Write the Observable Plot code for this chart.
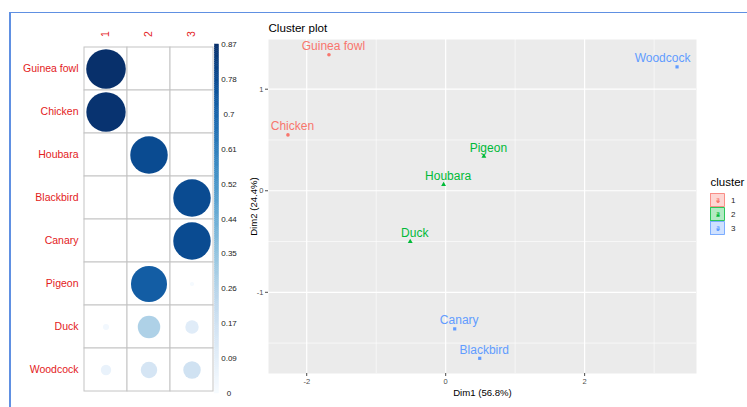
<!DOCTYPE html>
<html>
<head>
<meta charset="utf-8">
<script src="https://cdn.jsdelivr.net/npm/d3@7"></script>
<script src="https://cdn.jsdelivr.net/npm/@observablehq/plot@0.6"></script>
<style>
  html, body { margin: 0; padding: 0; background: #fff; }
  #fig { position: relative; width: 747px; height: 407px; overflow: hidden; background: #fff; }
  #fig > svg { position: absolute; left: 0; top: 0; }
  .rule { position: absolute; background: #6090e2; }
</style>
</head>
<body>
<div id="fig">
  <div class="rule" style="left:9px;top:11.5px;width:738px;height:1.5px"></div>
  <div class="rule" style="left:9px;top:11.5px;width:1.5px;height:396px"></div>
</div>
<script>
// Birds, in the row order of the membership table
const birds = ["Guinea fowl", "Chicken", "Houbara", "Blackbird", "Canary", "Pigeon", "Duck", "Woodcock"];
const clusterIds = ["1", "2", "3"];

// Membership of each bird in clusters 1, 2, 3
const membership1 = [0.87, 0.86, 0.00, 0.00, 0.00, 0.00, 0.02, 0.06];
const membership2 = [0.00, 0.00, 0.78, 0.00, 0.00, 0.72, 0.28, 0.15];
const membership3 = [0.00, 0.00, 0.00, 0.78, 0.78, 0.01, 0.10, 0.17];

// Colour bar labels
const barTickLabels = ["0", "0.09", "0.17", "0.26", "0.35", "0.44", "0.52", "0.61", "0.7", "0.78", "0.87"];

// PCA coordinates and assigned cluster
const dim1 = [-1.68, -2.27, -0.03, 0.49, 0.13, 0.55, -0.51, 3.33];
const dim2 = [1.34, 0.55, 0.06, -1.65, -1.36, 0.34, -0.50, 1.22];
const assigned = ["1", "1", "2", "3", "3", "2", "2", "3"];

const xMajor = [-2, 0, 2], xMinor = [-1, 1, 3];
const yMajor = [-1, 0, 1], yMinor = [-1.5, -0.5, 0.5];

const W = 747, H = 407;
const FONT = "'Liberation Sans', Arial, Helvetica, sans-serif";
const RED = "#e3211c";
const hue = ["#F8766D", "#00BA38", "#619CFF"];
const baseStyle = {background: "transparent", fontFamily: FONT, overflow: "visible"};

const memberships = [membership1, membership2, membership3];
const maxValue = d3.max(memberships.flat());
const cells = [];
birds.forEach((bird, i) => clusterIds.forEach((c, j) => cells.push({bird, cluster: c, value: memberships[j][i]})));

const points = birds.map((name, i) => ({name, dim1: dim1[i], dim2: dim2[i], cluster: assigned[i]}));
const expand = (v) => { const [a, b] = d3.extent(v); const p = (b - a) * 0.05; return [a - p, b + p]; };
const plainNumber = (d) => `${d}`;

const fig = document.getElementById("fig");

// Membership matrix: circles sized and shaded by value
fig.append(Plot.plot({
  width: W, height: H,
  marginLeft: 83, marginRight: W - 214, marginTop: 44, marginBottom: H - 393,
  style: baseStyle,
  x: {type: "band", domain: clusterIds, padding: 0, axis: null},
  y: {type: "band", domain: birds, padding: 0, axis: null},
  r: {type: "sqrt", domain: [0, maxValue], range: [0, 19.8]},
  color: {type: "linear", domain: [0, maxValue], scheme: "blues"},
  marks: [
    Plot.cell(cells, {x: "cluster", y: "bird", fill: "white", stroke: "#c4c4c4", strokeWidth: 1, inset: 0}),
    Plot.dot(cells, {x: "cluster", y: "bird", r: "value", fill: "value"}),
    Plot.text(birds, {y: d => d, frameAnchor: "left", textAnchor: "end", lineAnchor: "middle", dx: -5, fill: RED, fontSize: 10.5}),
    Plot.text(clusterIds, {x: d => d, frameAnchor: "top", textAnchor: "middle", lineAnchor: "middle", rotate: -90, dy: -10.5, fill: RED, fontSize: 10.5})
  ]
}));

// Colour bar
const nSteps = 160;
const steps = d3.range(nSteps).map(i => ({lo: i * maxValue / nSteps, hi: (i + 1) * maxValue / nSteps}));
const barTicks = barTickLabels.map((label, i) => ({label, value: i * maxValue / (barTickLabels.length - 1)}));
fig.append(Plot.plot({
  width: W, height: H,
  marginLeft: 214.5, marginRight: W - 218.5, marginTop: 44, marginBottom: H - 393,
  style: baseStyle,
  y: {domain: [0, maxValue], axis: null},
  color: {type: "linear", domain: [0, maxValue], scheme: "blues"},
  marks: [
    Plot.rect(steps, {y1: "lo", y2: "hi", fill: d => (d.lo + d.hi) / 2, stroke: d => (d.lo + d.hi) / 2, strokeWidth: 0.5}),
    Plot.text(barTicks, {y: "value", text: "label", frameAnchor: "right", textAnchor: "middle", lineAnchor: "middle", dx: 10, fontSize: 8, fill: "#222"})
  ]
}));

// Cluster plot on the first two dimensions
fig.append(Plot.plot({
  width: W, height: H,
  marginLeft: 268, marginRight: W - 696, marginTop: 39, marginBottom: H - 373,
  style: baseStyle,
  x: {domain: expand(dim1)},
  y: {domain: expand(dim2)},
  color: {domain: clusterIds, range: hue},
  symbol: {domain: clusterIds, range: ["circle", "triangle", "square"]},
  marks: [
    Plot.frame({fill: "#EBEBEB", stroke: "none"}),
    Plot.gridX({ticks: xMinor, stroke: "white", strokeOpacity: 1, strokeWidth: 0.6}),
    Plot.gridY({ticks: yMinor, stroke: "white", strokeOpacity: 1, strokeWidth: 0.6}),
    Plot.gridX({ticks: xMajor, stroke: "white", strokeOpacity: 1, strokeWidth: 1.2}),
    Plot.gridY({ticks: yMajor, stroke: "white", strokeOpacity: 1, strokeWidth: 1.2}),
    Plot.axisX({ticks: xMajor, tickFormat: plainNumber, tickSize: 3, tickPadding: 2, fontSize: 7.5, color: "#4d4d4d", label: null}),
    Plot.axisY({ticks: yMajor, tickFormat: plainNumber, tickSize: 3, tickPadding: 2, fontSize: 7.5, color: "#4d4d4d", label: null}),
    Plot.dot(points, {x: "dim1", y: "dim2", fill: "cluster", symbol: "cluster", r: 1.8}),
    Plot.text(points.filter(d => d.name !== "Woodcock"), {x: "dim1", y: "dim2", text: "name", fill: "cluster", dx: 4.5, dy: -8.5, fontSize: 12}),
    Plot.text(points.filter(d => d.name === "Woodcock"), {x: "dim1", y: "dim2", text: "name", fill: "cluster", dx: -14.5, dy: -8.5, fontSize: 12}),
    Plot.text(["Cluster plot"], {frameAnchor: "top-left", textAnchor: "start", lineAnchor: "middle", dy: -11, fontSize: 11.6, fill: "black"}),
    Plot.text(["Dim1 (56.8%)"], {frameAnchor: "bottom", textAnchor: "middle", lineAnchor: "middle", dy: 19.7, fontSize: 9.6, fill: "black"}),
    Plot.text(["Dim2 (24.4%)"], {frameAnchor: "left", textAnchor: "middle", lineAnchor: "middle", dx: -15, rotate: -90, fontSize: 9.6, fill: "black"})
  ]
}));

// Cluster legend
fig.append(Plot.plot({
  width: W, height: H,
  marginLeft: 710, marginRight: W - 725, marginTop: 192, marginBottom: H - 235.5,
  style: baseStyle,
  x: {type: "band", domain: ["key"], padding: 0, axis: null},
  y: {type: "band", domain: clusterIds, padding: 0, axis: null},
  color: {domain: clusterIds, range: hue},
  symbol: {domain: clusterIds, range: ["circle", "triangle", "square"]},
  marks: [
    Plot.cell(clusterIds, {x: () => "key", y: d => d, fill: d => d, fillOpacity: 0.3, stroke: d => d, strokeWidth: 0.8, inset: 0.6}),
    Plot.dot(clusterIds, {x: () => "key", y: d => d, fill: d => d, symbol: d => d, r: 1.4, dy: 1.2}),
    Plot.text(clusterIds, {x: () => "key", y: d => d, text: () => "a", fill: d => d, fontSize: 6.5, dy: -0.5}),
    Plot.text(clusterIds, {y: d => d, text: d => d, frameAnchor: "right", textAnchor: "start", lineAnchor: "middle", dx: 5.5, fontSize: 8, fill: "#222"}),
    Plot.text(["cluster"], {frameAnchor: "top-left", textAnchor: "start", lineAnchor: "middle", dy: -10, fontSize: 11.5, fill: "black"})
  ]
}));
</script>
</body>
</html>
